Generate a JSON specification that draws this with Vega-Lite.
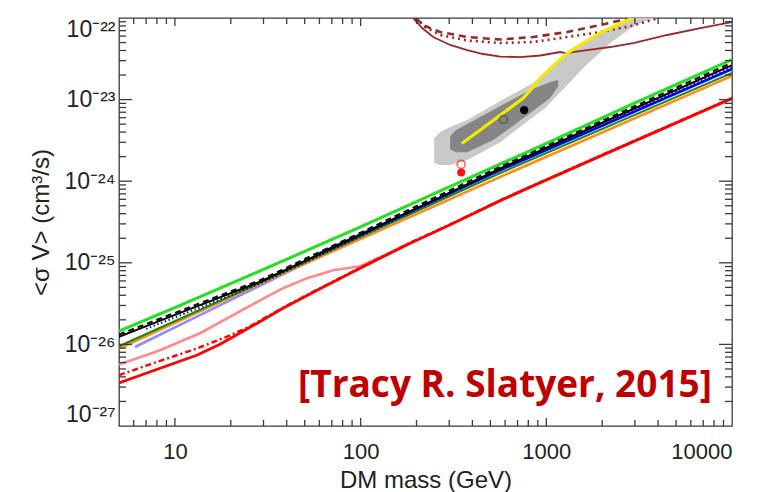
{
  "$schema": "https://vega.github.io/schema/vega-lite/v6.json",
  "width": 613,
  "height": 408,
  "autosize": "none",
  "padding": {"left": 119, "top": 18, "right": 46, "bottom": 66},
  "background": "#ffffff",
  "config": {
    "view": {"stroke": "#3a3a3a", "strokeWidth": 1.3},
    "axis": {
      "grid": false,
      "domain": false,
      "labelFont": "Liberation Sans",
      "titleFont": "Liberation Sans",
      "labelColor": "#222222",
      "titleColor": "#222222",
      "titleFontWeight": "normal",
      "labelOverlap": false
    },
    "tick": {"color": "#3a3a3a", "thickness": 1.3, "opacity": 1}
  },
  "datasets": {
    "xMajor": [{"m": 10}, {"m": 100}, {"m": 1000}],
    "xMinor": [
      {"m": 6}, {"m": 7}, {"m": 8}, {"m": 9},
      {"m": 20}, {"m": 30}, {"m": 40}, {"m": 50}, {"m": 60}, {"m": 70}, {"m": 80}, {"m": 90},
      {"m": 200}, {"m": 300}, {"m": 400}, {"m": 500}, {"m": 600}, {"m": 700}, {"m": 800}, {"m": 900},
      {"m": 2000}, {"m": 3000}, {"m": 4000}, {"m": 5000}, {"m": 6000}, {"m": 7000}, {"m": 8000}, {"m": 9000}
    ],
    "yMajor": [{"v": 1e-26}, {"v": 1e-25}, {"v": 1e-24}, {"v": 1e-23}],
    "yMinor": [
      {"v": 2e-27}, {"v": 3e-27}, {"v": 4e-27}, {"v": 5e-27}, {"v": 6e-27}, {"v": 7e-27}, {"v": 8e-27}, {"v": 9e-27},
      {"v": 2e-26}, {"v": 3e-26}, {"v": 4e-26}, {"v": 5e-26}, {"v": 6e-26}, {"v": 7e-26}, {"v": 8e-26}, {"v": 9e-26},
      {"v": 2e-25}, {"v": 3e-25}, {"v": 4e-25}, {"v": 5e-25}, {"v": 6e-25}, {"v": 7e-25}, {"v": 8e-25}, {"v": 9e-25},
      {"v": 2e-24}, {"v": 3e-24}, {"v": 4e-24}, {"v": 5e-24}, {"v": 6e-24}, {"v": 7e-24}, {"v": 8e-24}, {"v": 9e-24},
      {"v": 2e-23}, {"v": 3e-23}, {"v": 4e-23}, {"v": 5e-23}, {"v": 6e-23}, {"v": 7e-23}, {"v": 8e-23}, {"v": 9e-23}
    ],
    "lightband": [
      {"m": 249, "v": 1.67e-24, "v2": 3.37e-24},
      {"m": 268, "v": 1.575e-24, "v2": 4.0e-24},
      {"m": 303.7, "v": 1.575e-24, "v2": 4.6e-24},
      {"m": 375, "v": 1.81e-24, "v2": 5.61e-24},
      {"m": 565, "v": 3.01e-24, "v2": 9.6e-24},
      {"m": 850, "v": 6.11e-24, "v2": 1.595e-23},
      {"m": 987, "v": 7.87e-24, "v2": 2.18e-23},
      {"m": 1297, "v": 1.51e-23, "v2": 3.83e-23},
      {"m": 1581, "v": 2.44e-23, "v2": 5.08e-23},
      {"m": 2211, "v": 4.93e-23, "v2": 7.76e-23},
      {"m": 2904, "v": 7.76e-23, "v2": 1e-22},
      {"m": 3412, "v": 9.19e-23, "v2": 1e-22},
      {"m": 3960, "v": 1e-22, "v2": 1e-22}
    ],
    "darkband": [
      {"m": 303.7, "v": 2.47e-24, "v2": 3.57e-24},
      {"m": 327, "v": 2.27e-24, "v2": 4.23e-24},
      {"m": 375, "v": 2.27e-24, "v2": 5.01e-24},
      {"m": 518, "v": 3.19e-24, "v2": 7.44e-24},
      {"m": 565, "v": 3.67e-24, "v2": 8.33e-24},
      {"m": 819, "v": 6.84e-24, "v2": 1.31e-23},
      {"m": 1050, "v": 1.045e-23, "v2": 1.64e-23},
      {"m": 1160, "v": 1.47e-23, "v2": 1.74e-23}
    ],
    "brownSolid": [
      {"m": 192, "v": 1e-22},
      {"m": 214.6, "v": 7.54e-23},
      {"m": 246, "v": 5.85e-23},
      {"m": 303.7, "v": 4.67e-23},
      {"m": 375, "v": 4.05e-23},
      {"m": 457, "v": 3.62e-23},
      {"m": 565, "v": 3.37e-23},
      {"m": 724, "v": 3.32e-23},
      {"m": 927, "v": 3.47e-23},
      {"m": 1189, "v": 3.83e-23},
      {"m": 1265, "v": 3.72e-23},
      {"m": 1662, "v": 4.05e-23},
      {"m": 2211, "v": 4.41e-23},
      {"m": 2940, "v": 4.93e-23},
      {"m": 4483, "v": 6.19e-23},
      {"m": 6752, "v": 7.54e-23},
      {"m": 10000, "v": 8.93e-23}
    ],
    "brownDashed": [
      {"m": 197, "v": 1e-22},
      {"m": 222.7, "v": 7.98e-23},
      {"m": 268, "v": 6.73e-23},
      {"m": 375, "v": 5.85e-23},
      {"m": 565, "v": 5.45e-23},
      {"m": 850, "v": 5.85e-23},
      {"m": 1297, "v": 6.73e-23},
      {"m": 1953, "v": 8.2e-23},
      {"m": 2832, "v": 1e-22}
    ],
    "brownDotted": [
      {"m": 199, "v": 1e-22},
      {"m": 222.7, "v": 7.76e-23},
      {"m": 268, "v": 6.19e-23},
      {"m": 375, "v": 5.3e-23},
      {"m": 565, "v": 4.93e-23},
      {"m": 850, "v": 5.08e-23},
      {"m": 1297, "v": 5.85e-23},
      {"m": 1953, "v": 6.73e-23},
      {"m": 2940, "v": 8.09e-23},
      {"m": 4010, "v": 1e-22}
    ],
    "yellow": [
      {"m": 351, "v": 2.9e-24},
      {"m": 586, "v": 6.84e-24},
      {"m": 751, "v": 1.045e-23},
      {"m": 850, "v": 1.425e-23},
      {"m": 963, "v": 2.0e-23},
      {"m": 1297, "v": 3.72e-23},
      {"m": 1953, "v": 6.55e-23},
      {"m": 2904, "v": 1e-22}
    ],
    "fitOpen": [{"m": 588, "v": 5.72e-24}],
    "fitFilled": [{"m": 760, "v": 7.44e-24}],
    "redOpen": [{"m": 348, "v": 1.606e-24}],
    "redFilled": [{"m": 348, "v": 1.274e-24}],
    "pink": [
      {"m": 5, "v": 5.66e-27},
      {"m": 8.32, "v": 8.48e-27},
      {"m": 13.65, "v": 1.37e-26},
      {"m": 27.0, "v": 3.2e-26},
      {"m": 38.2, "v": 4.88e-26},
      {"m": 51.5, "v": 6.48e-26},
      {"m": 71.1, "v": 8.12e-26},
      {"m": 99.4, "v": 9.09e-26},
      {"m": 144, "v": 1.33e-25},
      {"m": 185, "v": 1.76e-25}
    ],
    "redSolid": [
      {"m": 5, "v": 3.37e-27},
      {"m": 8.32, "v": 5.1e-27},
      {"m": 13.1, "v": 7.36e-27},
      {"m": 17.5, "v": 1.005e-26},
      {"m": 25.4, "v": 1.62e-26},
      {"m": 38.2, "v": 2.78e-26},
      {"m": 58.3, "v": 4.62e-26},
      {"m": 99.4, "v": 8.59e-26},
      {"m": 185, "v": 1.74e-25},
      {"m": 303.7, "v": 2.93e-25},
      {"m": 565, "v": 5.78e-25},
      {"m": 819, "v": 8.46e-25},
      {"m": 1953, "v": 2.03e-24},
      {"m": 10000, "v": 1.035e-23}
    ],
    "redDashDot": [
      {"m": 5, "v": 4.19e-27},
      {"m": 7.35, "v": 5.71e-27},
      {"m": 13.1, "v": 8.89e-27},
      {"m": 19.8, "v": 1.29e-26},
      {"m": 25.4, "v": 1.67e-26},
      {"m": 38.2, "v": 2.82e-26},
      {"m": 58.3, "v": 4.68e-26},
      {"m": 99.4, "v": 8.7e-26},
      {"m": 185, "v": 1.76e-25},
      {"m": 303.7, "v": 2.96e-25},
      {"m": 565, "v": 5.84e-25},
      {"m": 819, "v": 8.55e-25},
      {"m": 1953, "v": 2.05e-24},
      {"m": 10000, "v": 1.045e-23}
    ],
    "lavender": [
      {"m": 6.1, "v": 9.3e-27},
      {"m": 10, "v": 1.62e-26},
      {"m": 29, "v": 5.3e-26},
      {"m": 50, "v": 9.8e-26}
    ],
    "orange": [
      {"m": 5, "v": 8.9e-27},
      {"m": 29, "v": 5.6e-26},
      {"m": 565, "v": 1.13e-24},
      {"m": 10000, "v": 1.95e-23}
    ],
    "darkGreen": [
      {"m": 5, "v": 9.5e-27},
      {"m": 29, "v": 5.75e-26},
      {"m": 565, "v": 1.26e-24},
      {"m": 10000, "v": 2.13e-23}
    ],
    "blue": [
      {"m": 60, "v": 1.3e-25},
      {"m": 200, "v": 4.6e-25},
      {"m": 565, "v": 1.37e-24},
      {"m": 10000, "v": 2.37e-23}
    ],
    "navyDotted": [
      {"m": 7, "v": 1.55e-26},
      {"m": 29, "v": 5.6e-26},
      {"m": 100, "v": 2.1e-25},
      {"m": 565, "v": 1.38e-24},
      {"m": 10000, "v": 2.5e-23}
    ],
    "blackSolid": [
      {"m": 5, "v": 1.24e-26},
      {"m": 10, "v": 2.3e-26},
      {"m": 29, "v": 5.9e-26},
      {"m": 100, "v": 2.2e-25},
      {"m": 300, "v": 7.2e-25},
      {"m": 565, "v": 1.43e-24},
      {"m": 2000, "v": 5.2e-24},
      {"m": 10000, "v": 2.65e-23}
    ],
    "blackDashed": [
      {"m": 5, "v": 1.32e-26},
      {"m": 10, "v": 2.43e-26},
      {"m": 29, "v": 6.17e-26},
      {"m": 100, "v": 2.34e-25},
      {"m": 300, "v": 7.64e-25},
      {"m": 565, "v": 1.51e-24},
      {"m": 2000, "v": 5.5e-24},
      {"m": 10000, "v": 2.83e-23}
    ],
    "green": [
      {"m": 5, "v": 1.45e-26},
      {"m": 10, "v": 2.82e-26},
      {"m": 30, "v": 8.3e-26},
      {"m": 100, "v": 2.75e-25},
      {"m": 300, "v": 8.5e-25},
      {"m": 1000, "v": 2.9e-24},
      {"m": 3000, "v": 9.1e-24},
      {"m": 10000, "v": 3.1e-23}
    ],
    "credit": [{"m": 7800, "v": 2.25e-27, "label": "[Tracy R. Slatyer, 2015]"}]
  },
  "resolve": {"axis": {"x": "independent", "y": "independent"}},
  "layer": [
    {
      "data": {"name": "lightband"},
      "mark": {"type": "area", "color": "#c9c9c9", "clip": true},
      "encoding": {
        "x": {"field": "m", "type": "quantitative", "scale": {"type": "log", "domain": [5, 10000], "nice": false},
          "axis": {"orient": "bottom", "values": [10, 100, 1000, 10000], "ticks": false, "labelFontSize": 22, "labelPadding": 15, "format": "d",
            "title": "DM mass (GeV)", "titleFontSize": 24, "titlePadding": 6}},
        "y": {"field": "v", "type": "quantitative", "scale": {"type": "log", "domain": [1e-27, 1e-22], "nice": false},
          "axis": {"orient": "left", "values": [1e-27, 1e-26, 1e-25, 1e-24, 1e-23, 1e-22], "ticks": false, "labelFontSize": 23, "labelPadding": 4, "labelFlush": true,
            "labelExpr": "datum.value < 2e-27 ? '10⁻²⁷' : datum.value < 2e-26 ? '10⁻²⁶' : datum.value < 2e-25 ? '10⁻²⁵' : datum.value < 2e-24 ? '10⁻²⁴' : datum.value < 2e-23 ? '10⁻²³' : '10⁻²²'",
            "title": "<σ V> (cm³/s)", "titleFontSize": 24, "titlePadding": 10}},
        "y2": {"field": "v2"}
      }
    },
    {
      "encoding": {
        "x": {"field": "m", "type": "quantitative", "scale": {"type": "log", "domain": [5, 10000], "nice": false}, "axis": null},
        "y": {"field": "v", "type": "quantitative", "scale": {"type": "log", "domain": [1e-27, 1e-22], "nice": false}, "axis": null}
      },
      "layer": [
        {"data": {"name": "darkband"}, "mark": {"type": "area", "color": "#858585", "clip": true}, "encoding": {"y2": {"field": "v2"}}},
        {"data": {"name": "brownSolid"}, "mark": {"type": "line", "color": "#962a2a", "strokeWidth": 1.8, "clip": true}, "encoding": {}},
        {"data": {"name": "brownDashed"}, "mark": {"type": "line", "color": "#962a2a", "strokeWidth": 2.6, "strokeDash": [7, 5], "clip": true}, "encoding": {}},
        {"data": {"name": "brownDotted"}, "mark": {"type": "line", "color": "#962a2a", "strokeWidth": 2.6, "strokeDash": [2, 4], "clip": true}, "encoding": {}},
        {"data": {"name": "yellow"}, "mark": {"type": "line", "color": "#f2ea00", "strokeWidth": 3.2, "clip": true}, "encoding": {}},
        {"data": {"name": "fitOpen"}, "mark": {"type": "point", "shape": "circle", "filled": false, "color": "#4a4a4a", "strokeWidth": 1.5, "size": 64}, "encoding": {}},
        {"data": {"name": "fitFilled"}, "mark": {"type": "circle", "color": "#000000", "size": 70, "opacity": 1}, "encoding": {}},
        {"data": {"name": "redOpen"}, "mark": {"type": "point", "shape": "circle", "filled": false, "color": "#ff2020", "strokeWidth": 1.6, "size": 64}, "encoding": {}},
        {"data": {"name": "redFilled"}, "mark": {"type": "circle", "color": "#ff1010", "size": 64, "opacity": 1}, "encoding": {}},
        {"data": {"name": "pink"}, "mark": {"type": "line", "color": "#ff8a8a", "strokeWidth": 2.6, "clip": true}, "encoding": {}},
        {"data": {"name": "redSolid"}, "mark": {"type": "line", "color": "#ff0000", "strokeWidth": 2.8, "clip": true}, "encoding": {}},
        {"data": {"name": "redDashDot"}, "mark": {"type": "line", "color": "#ff0000", "strokeWidth": 2.4, "strokeDash": [6, 3, 2, 3], "clip": true}, "encoding": {}},
        {"data": {"name": "lavender"}, "mark": {"type": "line", "color": "#8c8cff", "strokeWidth": 2.6, "clip": true}, "encoding": {}},
        {"data": {"name": "orange"}, "mark": {"type": "line", "color": "#ff8c1a", "strokeWidth": 2.6, "clip": true}, "encoding": {}},
        {"data": {"name": "darkGreen"}, "mark": {"type": "line", "color": "#1a8a1a", "strokeWidth": 2, "clip": true}, "encoding": {}},
        {"data": {"name": "blue"}, "mark": {"type": "line", "color": "#0000ff", "strokeWidth": 2.8, "clip": true}, "encoding": {}},
        {"data": {"name": "navyDotted"}, "mark": {"type": "line", "color": "#1a1a80", "strokeWidth": 2, "strokeDash": [1.5, 2.5], "clip": true}, "encoding": {}},
        {"data": {"name": "blackSolid"}, "mark": {"type": "line", "color": "#000000", "strokeWidth": 2, "clip": true}, "encoding": {}},
        {"data": {"name": "blackDashed"}, "mark": {"type": "line", "color": "#111111", "strokeWidth": 2.2, "strokeDash": [6, 4], "clip": true}, "encoding": {}},
        {"data": {"name": "green"}, "mark": {"type": "line", "color": "#22e022", "strokeWidth": 3, "clip": true}, "encoding": {}},
        {
          "data": {"name": "credit"},
          "mark": {"type": "text", "align": "right", "baseline": "alphabetic", "font": "Open Sans", "fontWeight": "bold", "fontSize": 37, "color": "#c00000"},
          "encoding": {"text": {"field": "label"}}
        }
      ]
    },
    {
      "data": {"name": "xMajor"},
      "mark": {"type": "tick", "orient": "vertical", "size": 16, "clip": true},
      "encoding": {
        "x": {"field": "m", "type": "quantitative", "scale": {"type": "log", "domain": [5, 10000], "nice": false}, "axis": null},
        "y": {"datum": 1e-27, "type": "quantitative", "scale": {"type": "log", "domain": [1e-27, 1e-22], "nice": false}, "axis": null}
      }
    },
    {
      "data": {"name": "xMajor"},
      "mark": {"type": "tick", "orient": "vertical", "size": 16, "clip": true},
      "encoding": {
        "x": {"field": "m", "type": "quantitative", "scale": {"type": "log", "domain": [5, 10000], "nice": false}, "axis": null},
        "y": {"datum": 1e-22, "type": "quantitative", "scale": {"type": "log", "domain": [1e-27, 1e-22], "nice": false}, "axis": null}
      }
    },
    {
      "data": {"name": "xMinor"},
      "mark": {"type": "tick", "orient": "vertical", "size": 12, "clip": true},
      "encoding": {
        "x": {"field": "m", "type": "quantitative", "scale": {"type": "log", "domain": [5, 10000], "nice": false}, "axis": null},
        "y": {"datum": 1e-27, "type": "quantitative", "scale": {"type": "log", "domain": [1e-27, 1e-22], "nice": false}, "axis": null}
      }
    },
    {
      "data": {"name": "xMinor"},
      "mark": {"type": "tick", "orient": "vertical", "size": 12, "clip": true},
      "encoding": {
        "x": {"field": "m", "type": "quantitative", "scale": {"type": "log", "domain": [5, 10000], "nice": false}, "axis": null},
        "y": {"datum": 1e-22, "type": "quantitative", "scale": {"type": "log", "domain": [1e-27, 1e-22], "nice": false}, "axis": null}
      }
    },
    {
      "data": {"name": "yMajor"},
      "mark": {"type": "tick", "orient": "horizontal", "size": 26, "clip": true},
      "encoding": {
        "x": {"datum": 5, "type": "quantitative", "scale": {"type": "log", "domain": [5, 10000], "nice": false}, "axis": null},
        "y": {"field": "v", "type": "quantitative", "scale": {"type": "log", "domain": [1e-27, 1e-22], "nice": false}, "axis": null}
      }
    },
    {
      "data": {"name": "yMajor"},
      "mark": {"type": "tick", "orient": "horizontal", "size": 26, "clip": true},
      "encoding": {
        "x": {"datum": 10000, "type": "quantitative", "scale": {"type": "log", "domain": [5, 10000], "nice": false}, "axis": null},
        "y": {"field": "v", "type": "quantitative", "scale": {"type": "log", "domain": [1e-27, 1e-22], "nice": false}, "axis": null}
      }
    },
    {
      "data": {"name": "yMinor"},
      "mark": {"type": "tick", "orient": "horizontal", "size": 14, "clip": true},
      "encoding": {
        "x": {"datum": 5, "type": "quantitative", "scale": {"type": "log", "domain": [5, 10000], "nice": false}, "axis": null},
        "y": {"field": "v", "type": "quantitative", "scale": {"type": "log", "domain": [1e-27, 1e-22], "nice": false}, "axis": null}
      }
    },
    {
      "data": {"name": "yMinor"},
      "mark": {"type": "tick", "orient": "horizontal", "size": 14, "clip": true},
      "encoding": {
        "x": {"datum": 10000, "type": "quantitative", "scale": {"type": "log", "domain": [5, 10000], "nice": false}, "axis": null},
        "y": {"field": "v", "type": "quantitative", "scale": {"type": "log", "domain": [1e-27, 1e-22], "nice": false}, "axis": null}
      }
    }
  ]
}
